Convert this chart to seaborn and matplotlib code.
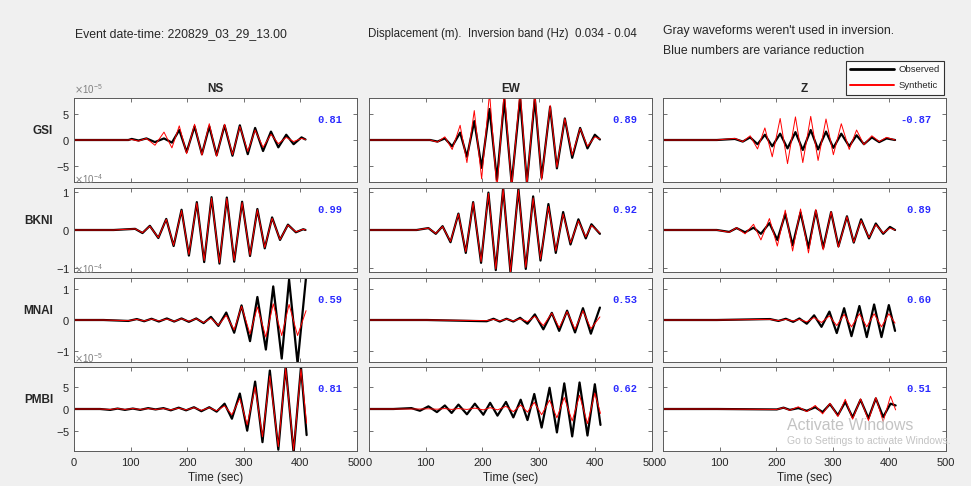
import numpy as np
import matplotlib
matplotlib.use("Agg")
import matplotlib.pyplot as plt
from matplotlib.lines import Line2D
import seaborn as sns

sns.set_style("ticks")
plt.rcParams['font.family'] = ['Liberation Sans', 'DejaVu Sans']
plt.rcParams['axes.unicode_minus'] = False

stations = ["GSI", "BKNI", "MNAI", "PMBI"]
components = ["NS", "EW", "Z"]
row_scale = [1e-5, 1e-4, 1e-4, 1e-5]
row_lim = [8.0, 1.1, 1.35, 9.5]
row_ticks = [[-5, 0, 5], [-1, 0, 1], [-1, 0, 1], [-5, 0, 5]]
var_red = [["0.81", "0.89", "-0.87"],
           ["0.99", "0.92", "0.89"],
           ["0.59", "0.53", "0.60"],
           ["0.81", "0.62", "0.51"]]
time_ticks = [0, 100, 200, 300, 400, 500]

# turning points of the waveforms (time in s, amplitude in row units)
t_gsi_ns = [0, 96, 102, 114, 128, 143, 159, 173, 186, 199, 213, 226, 239, 252, 266, 280, 293, 307, 320, 334, 348, 361, 375, 388, 402, 409]
obs_gsi_ns = [0, 0, 0.2, -0.1, 0.3, -0.4, 0.3, -0.5, 1.9, -2.3, 2.6, -2.7, 2.6, -2.9, 2.8, -3.0, 2.8, -2.7, 2.3, -2.1, 1.6, -1.4, 1.0, -0.8, 0.5, 0.1]
syn_gsi_ns = [0, 0, 0.1, -0.2, 0.3, -1.0, 1.5, -1.5, 2.7, -2.6, 3.0, -2.9, 3.1, -3.1, 3.0, -2.8, 2.6, -2.2, 1.9, -1.4, 1.1, -0.7, 0.5, -0.3, 0.3, 0.1]

t_gsi_ew = [0, 108, 121, 134, 147, 161, 173, 186, 199, 213, 226, 239, 252, 267, 279, 293, 305, 320, 332, 346, 359, 373, 386, 399, 408]
obs_gsi_ew = [0, 0, -0.3, 0.3, -1.2, 1.4, -3.2, 3.6, -5.3, 5.9, -7.6, 7.7, -8.3, 8.0, -8.2, 7.9, -7.2, 6.3, -5.4, 4.1, -3.4, 2.3, -1.6, 1.0, 0.1]
syn_gsi_ew = [0, 0, -0.4, 0.6, -1.8, 2.8, -4.3, 5.6, -7.4, 9.0, -9.5, 9.5, -9.0, 9.5, -8.6, 9.0, -7.6, 6.6, -5.2, 4.1, -2.9, 2.2, -1.2, 0.6, 0.2]

t_gsi_z = [0, 95, 127, 141, 154, 167, 180, 193, 207, 220, 234, 247, 261, 274, 288, 301, 315, 329, 342, 355, 369, 382, 395, 410]
obs_gsi_z = [0, 0, 0.2, -0.3, 0.5, -0.8, 1.0, -1.2, 1.2, -1.6, 1.5, -1.9, 1.9, -1.8, 1.6, -1.5, 1.2, -1.2, 0.9, -0.8, 0.5, -0.4, 0.3, 0.0]
syn_gsi_z = [0, 0, 0.3, -0.3, 0.8, -1.7, 2.3, -3.2, 4.1, -4.5, 4.4, -4.3, 4.5, -3.9, 4.0, -2.8, 3.1, -1.8, 1.9, -0.9, 0.8, -0.3, 0.5, 0.0]

t_bkni_ns = [0, 70, 108, 121, 134, 149, 163, 176, 190, 203, 217, 230, 243, 257, 270, 283, 297, 311, 324, 337, 350, 364, 378, 392, 405, 409]
obs_bkni_ns = [0, 0, 0.03, -0.08, 0.11, -0.21, 0.29, -0.42, 0.53, -0.67, 0.73, -0.84, 0.86, -0.88, 0.85, -0.83, 0.74, -0.68, 0.55, -0.48, 0.33, -0.26, 0.14, -0.06, 0.02, 0.0]
syn_bkni_ns = [0, 0, 0.03, -0.07, 0.10, -0.20, 0.28, -0.40, 0.51, -0.64, 0.71, -0.80, 0.84, -0.85, 0.83, -0.80, 0.72, -0.66, 0.53, -0.46, 0.31, -0.25, 0.13, -0.05, 0.02, 0.0]

t_bkni_ew = [0, 84, 105, 118, 130, 144, 158, 171, 184, 198, 211, 224, 237, 250, 264, 277, 290, 303, 317, 330, 343, 356, 370, 383, 393, 408]
obs_bkni_ew = [0, 0, 0.05, -0.10, 0.10, -0.32, 0.43, -0.60, 0.73, -0.86, 0.98, -1.05, 1.10, -1.12, 1.08, -1.02, 0.88, -0.80, 0.68, -0.60, 0.47, -0.38, 0.28, -0.22, 0.15, -0.10]
syn_bkni_ew = [0, 0, 0.05, -0.09, 0.09, -0.30, 0.42, -0.57, 0.72, -0.83, 0.96, -1.02, 1.08, -1.10, 1.05, -0.98, 0.84, -0.76, 0.62, -0.55, 0.42, -0.34, 0.24, -0.18, 0.12, -0.08]

t_bkni_z = [0, 95, 117, 130, 145, 160, 173, 188, 202, 216, 229, 243, 257, 270, 283, 297, 310, 325, 337, 350, 364, 376, 389, 401, 410]
obs_bkni_z = [0, 0, -0.05, 0.05, -0.06, 0.06, -0.10, 0.18, -0.26, 0.42, -0.40, 0.46, -0.47, 0.50, -0.47, 0.47, -0.43, 0.36, -0.33, 0.28, -0.22, 0.17, -0.10, 0.08, 0.0]
syn_bkni_z = [0, 0, -0.06, 0.06, -0.10, 0.15, -0.26, 0.30, -0.42, 0.52, -0.55, 0.55, -0.60, 0.54, -0.52, 0.48, -0.45, 0.35, -0.32, 0.25, -0.20, 0.14, -0.08, 0.05, 0.0]

t_mnai_ns = [0, 52, 96, 111, 124, 137, 150, 164, 177, 190, 203, 216, 229, 242, 255, 269, 283, 296, 311, 324, 339, 352, 367, 380, 395, 410]
obs_mnai_ns = [0, 0, -0.03, 0.03, -0.04, 0.04, -0.05, 0.05, -0.05, 0.05, -0.06, 0.05, -0.10, 0.10, -0.19, 0.24, -0.41, 0.47, -0.68, 0.74, -0.95, 1.08, -1.24, 1.30, -1.40, 1.38]
syn_mnai_ns = [0, 0, -0.02, 0.02, -0.03, 0.03, -0.03, 0.03, -0.04, 0.04, -0.04, 0.04, -0.08, 0.06, -0.17, 0.15, -0.32, 0.44, -0.45, 0.42, -0.55, 0.52, -0.50, 0.50, -0.50, 0.30]

t_mnai_ew = [0, 102, 208, 220, 231, 243, 255, 267, 280, 293, 308, 323, 336, 350, 364, 378, 392, 408]
obs_mnai_ew = [0, 0, -0.04, 0.04, -0.05, 0.04, -0.05, 0.07, -0.12, 0.18, -0.30, 0.23, -0.35, 0.30, -0.40, 0.38, -0.44, 0.40]
syn_mnai_ew = [0, 0, -0.02, 0.02, -0.03, 0.03, -0.03, 0.04, -0.05, 0.12, -0.18, 0.22, -0.25, 0.27, -0.30, 0.30, -0.28, 0.10]

t_mnai_z = [0, 95, 189, 204, 217, 230, 241, 254, 267, 280, 294, 307, 320, 333, 347, 360, 373, 386, 399, 410]
obs_mnai_z = [0, 0, 0.03, -0.03, 0.04, -0.06, 0.05, -0.12, 0.15, -0.22, 0.27, -0.42, 0.38, -0.52, 0.45, -0.55, 0.50, -0.55, 0.48, -0.35]
syn_mnai_z = [0, 0, 0.02, -0.02, 0.02, -0.03, 0.02, -0.06, 0.08, -0.08, 0.13, -0.18, 0.18, -0.22, 0.20, -0.22, 0.20, -0.22, 0.20, -0.10]

t_pmbi_ns = [0, 46, 64, 77, 90, 104, 117, 131, 144, 158, 171, 185, 198, 212, 225, 239, 252, 266, 279, 293, 306, 320, 333, 346, 361, 374, 388, 401, 411]
obs_pmbi_ns = [0, 0, -0.2, 0.1, -0.2, 0.1, -0.2, 0.2, -0.1, 0.2, -0.3, 0.3, -0.3, 0.4, -0.5, 0.4, -0.6, 1.2, -2.2, 3.5, -4.9, 6.2, -7.5, 8.7, -9.2, 9.7, -9.9, 9.5, -5.9]
syn_pmbi_ns = [0, 0, -0.1, 0.1, -0.1, 0.1, -0.1, 0.1, -0.1, 0.1, -0.2, 0.2, -0.2, 0.3, -0.3, 0.3, -0.4, 0.7, -1.3, 2.4, -3.6, 5.0, -6.3, 7.5, -8.5, 9.2, -9.3, 9.0, -3.2]

t_pmbi_ew = [0, 43, 75, 90, 105, 120, 134, 146, 158, 173, 187, 202, 214, 227, 242, 255, 268, 280, 292, 305, 319, 332, 345, 359, 372, 386, 399, 409]
obs_pmbi_ew = [0, 0, 0.2, -0.4, 0.6, -0.7, 0.8, -0.9, 1.0, -1.2, 1.2, -1.3, 1.4, -1.5, 1.6, -1.9, 2.1, -2.5, 3.4, -4.2, 4.8, -5.3, 5.8, -6.2, 6.0, -6.0, 5.6, -3.6]
syn_pmbi_ew = [0, 0, 0.0, 0.0, 0.05, -0.05, 0.1, -0.1, 0.1, -0.1, 0.2, -0.2, 0.3, -0.2, 0.6, -0.6, 0.9, -0.7, 1.5, -1.3, 2.0, -2.0, 2.6, -2.7, 3.1, -3.3, 3.6, -1.0]

t_pmbi_z = [0, 95, 201, 213, 224, 239, 254, 269, 282, 295, 309, 322, 335, 349, 363, 376, 389, 402, 411]
obs_pmbi_z = [0, 0, -0.1, 0.3, -0.2, 0.2, -0.4, 0.4, -0.7, 1.1, -1.4, 1.6, -1.9, 2.1, -2.1, 2.4, -1.8, 1.2, 0.8]
syn_pmbi_z = [0, 0, -0.1, 0.3, -0.3, 0.5, -0.6, 0.8, -1.1, 1.3, -1.7, 2.2, -2.3, 2.3, -2.6, 2.6, -2.8, 2.9, -0.2]

panels = [
    [(t_gsi_ns, obs_gsi_ns, syn_gsi_ns), (t_gsi_ew, obs_gsi_ew, syn_gsi_ew), (t_gsi_z, obs_gsi_z, syn_gsi_z)],
    [(t_bkni_ns, obs_bkni_ns, syn_bkni_ns), (t_bkni_ew, obs_bkni_ew, syn_bkni_ew), (t_bkni_z, obs_bkni_z, syn_bkni_z)],
    [(t_mnai_ns, obs_mnai_ns, syn_mnai_ns), (t_mnai_ew, obs_mnai_ew, syn_mnai_ew), (t_mnai_z, obs_mnai_z, syn_mnai_z)],
    [(t_pmbi_ns, obs_pmbi_ns, syn_pmbi_ns), (t_pmbi_ew, obs_pmbi_ew, syn_pmbi_ew), (t_pmbi_z, obs_pmbi_z, syn_pmbi_z)],
]

W, H = 971, 486
fig = plt.figure(figsize=(W / 100, H / 100), dpi=100, facecolor="#f0f0f0")

lefts = [74, 369, 663]
tops = [98, 188, 278, 367]
aw, ah = 283, 84
frame_col = "#5a5a5a"
tick_col = "#262626"

for r in range(4):
    for c in range(3):
        ax = fig.add_axes([lefts[c] / W, 1 - (tops[r] + ah) / H, aw / W, ah / H])
        ax.set_facecolor("white")
        t, obs, syn = panels[r][c]
        s = row_scale[r]
        sns.lineplot(x=t, y=np.array(obs) * s, color="black", lw=1.6, ax=ax, legend=False)
        sns.lineplot(x=t, y=np.array(syn) * s, color="#ff0000", lw=0.7, ax=ax, legend=False)

        ax.set_xlim(0, 500)
        ax.set_ylim(-row_lim[r] * s, row_lim[r] * s)
        ax.set_xticks(time_ticks)
        ax.set_yticks(np.array(row_ticks[r]) * s)
        ax.set_xlabel("")
        ax.set_ylabel("")
        ax.tick_params(direction="in", top=True, right=True, length=3, width=0.6,
                       colors=frame_col, labelcolor=tick_col, labelsize=8, pad=3)
        ax.tick_params(axis="x", pad=5)
        for sp in ax.spines.values():
            sp.set_color(frame_col)
            sp.set_linewidth(0.7)

        if c == 0:
            ax.ticklabel_format(axis="y", style="sci", scilimits=(0, 0), useMathText=True)
            ax.yaxis.get_offset_text().set_color("#808080")
            ax.yaxis.get_offset_text().set_fontsize(7)
        else:
            ax.set_yticklabels([])
        if r == 3:
            ax.set_xlabel("Time (sec)", fontsize=8.5, color=tick_col, labelpad=3)
        else:
            ax.set_xticklabels([])
        if r == 0:
            ax.set_title(components[c], fontsize=8.5, fontweight="bold", pad=4)

        ax.text(0.95, 0.74, var_red[r][c], transform=ax.transAxes, ha="right", va="center",
                color="#2a2aff", fontsize=7.5, fontweight="bold",
                family=["Liberation Mono", "DejaVu Sans Mono"])

    fig.text(53 / W, 1 - (tops[r] + 33) / H, stations[r], ha="right", va="center",
             fontsize=8.5, fontweight="bold")

fig.text(75 / W, 1 - 34 / H, "Event date-time: 220829_03_29_13.00", ha="left", va="center", fontsize=8.8)
fig.text(368 / W, 1 - 34 / H, "Displacement (m).  Inversion band (Hz)  0.034 - 0.04",
         ha="left", va="center", fontsize=8.3)
fig.text(663 / W, 1 - 31 / H, "Gray waveforms weren't used in inversion.", ha="left", va="center", fontsize=8.8)
fig.text(663 / W, 1 - 51 / H, "Blue numbers are variance reduction", ha="left", va="center", fontsize=8.8)

handles = [Line2D([], [], color="black", lw=2), Line2D([], [], color="#ff0000", lw=1.4)]
leg = fig.legend(handles, ["Observed", "Synthetic"], loc="upper right",
                 bbox_to_anchor=(944 / W, 1 - 61 / H), fontsize=6.8, frameon=True,
                 fancybox=False, edgecolor="black", handlelength=4.6, borderpad=0.45,
                 labelspacing=0.75, handletextpad=0.5, borderaxespad=0)
leg.get_frame().set_linewidth(0.8)
leg.get_frame().set_facecolor("white")

fig.text(787 / W, 1 - 425 / H, "Activate Windows", ha="left", va="center", fontsize=11.5,
         color="#bdbdbd", alpha=0.9)
fig.text(787 / W, 1 - 441 / H, "Go to Settings to activate Windows.", ha="left", va="center",
         fontsize=7.5, color="#bdbdbd", alpha=0.9)

fig.savefig("out.png", dpi=100, facecolor=fig.get_facecolor())
